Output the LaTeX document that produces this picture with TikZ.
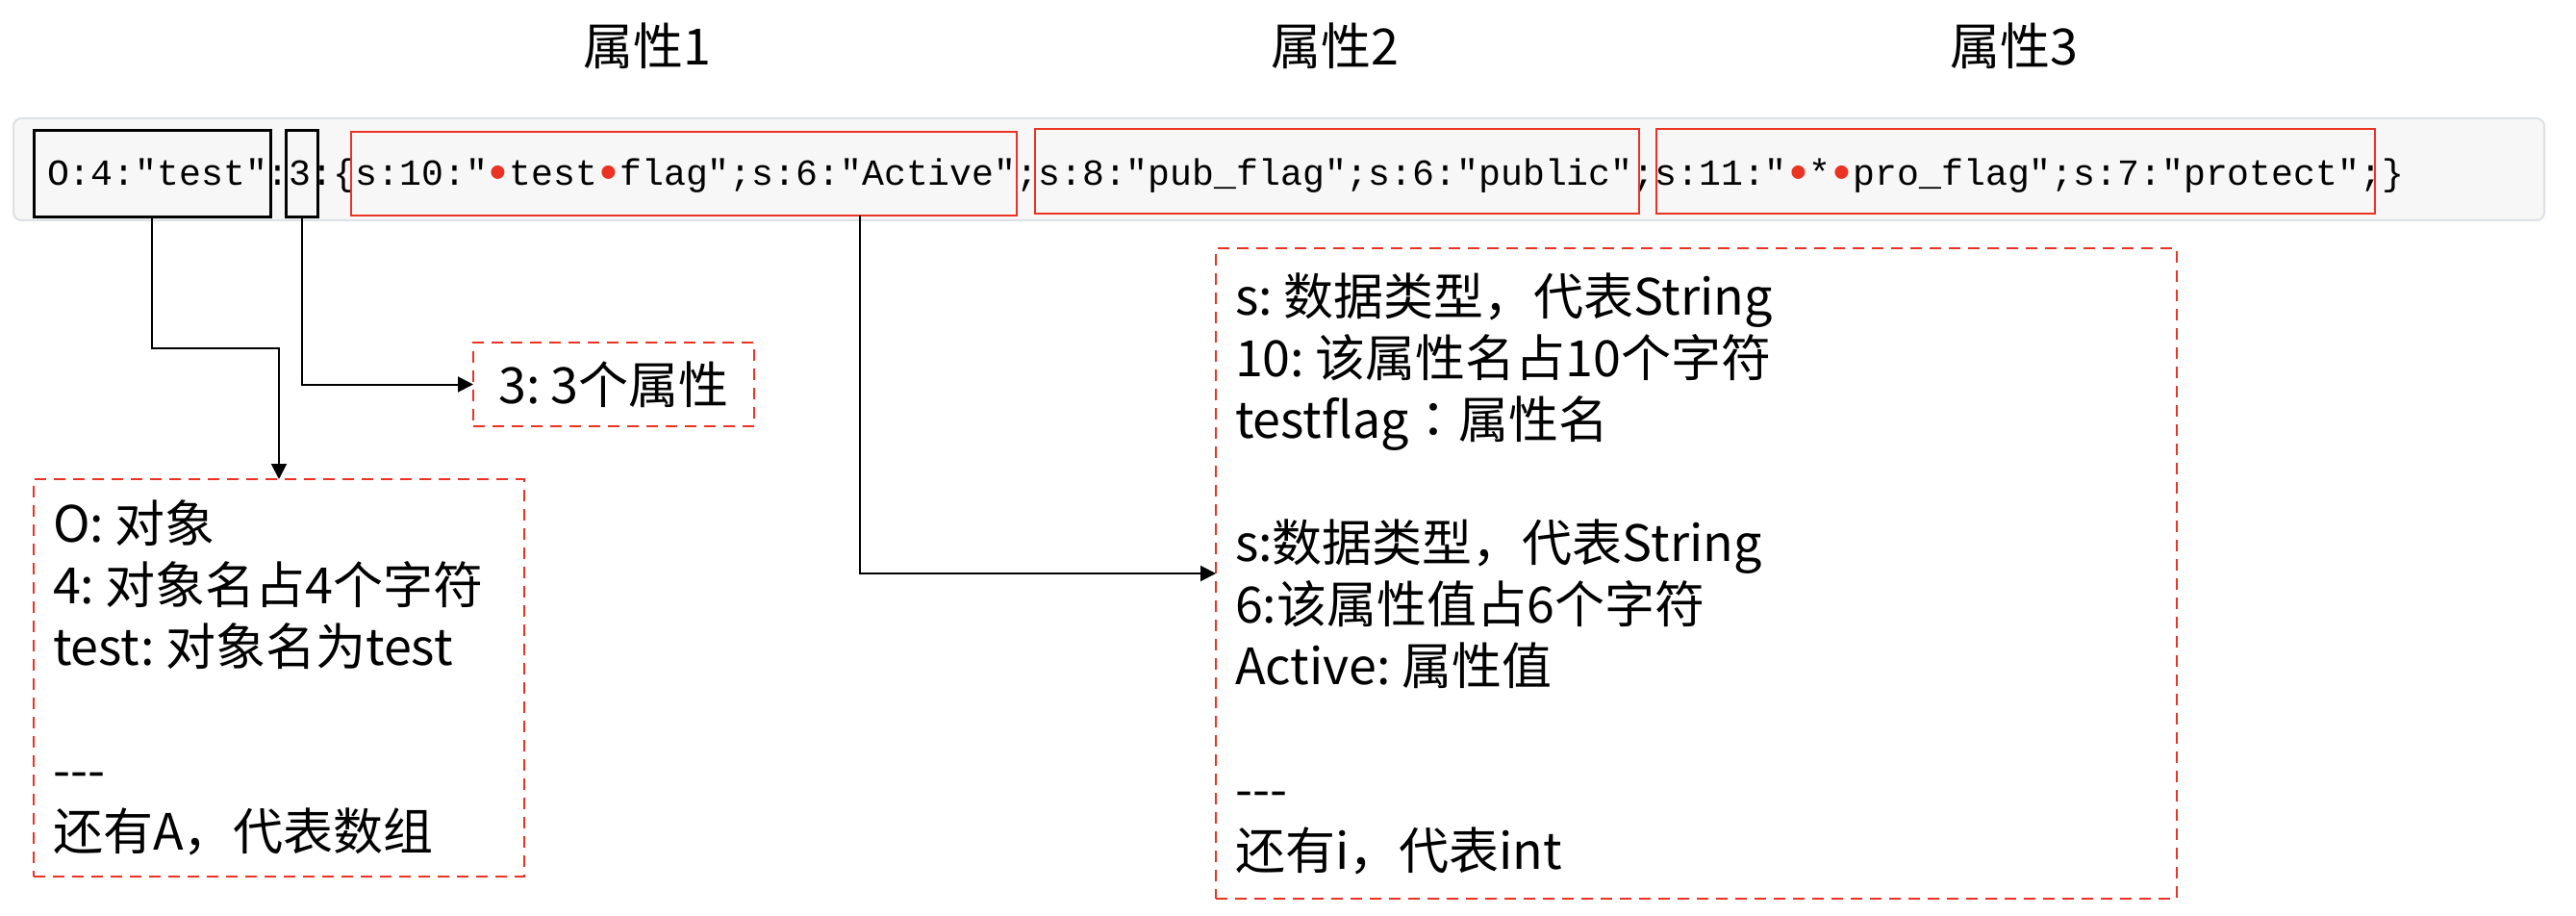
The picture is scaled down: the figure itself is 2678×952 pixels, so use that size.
\documentclass[tikz,border=0pt]{standalone}
\usepackage{fontspec}
\setmainfont{Noto Sans CJK SC}[WordSpace=0.6]
\newfontfamily\tcfont{Noto Sans CJK TC}
\newfontfamily\codefont{Liberation Mono}
\usetikzlibrary{arrows.meta,calc}
\definecolor{cred}{HTML}{EA3323}
\definecolor{barfill}{HTML}{F7F7F7}
\definecolor{barline}{HTML}{DDE0E4}
\newcommand{\nulldot}{\makebox[0.6em][c]{\textcolor{cred}{\raisebox{-0.1em}{\scalebox{1.35}{•}}}}}
\newcommand{\csp}{\hspace{0.22em}}
\begin{document}
\begin{tikzpicture}[x=0.5pt,y=-0.5pt,
  every node/.style={inner sep=0pt, outer sep=0pt},
  txt/.style={font=\fontsize{26pt}{32pt}\selectfont},
  code/.style={font=\codefont\fontsize{19.08pt}{23pt}\selectfont},
  bar/.style={draw=barline, fill=barfill, line width=1pt, rounded corners=4pt},
  blackbox/.style={draw=black, line width=1.5pt},
  redbox/.style={draw=cred, line width=1.2pt},
  note/.style={draw=cred, dash pattern=on 6pt off 4pt, line width=1pt, txt},
  conn/.style={draw=black, line width=1pt},
  arr/.style={conn, -{Triangle[length=8pt,width=8pt]}}
]
\useasboundingbox (0,0) rectangle (2678,952);

% titles
\node[txt] (t1) at (673,48) {属性1};
\node[txt] (t2) at (1388,48) {属性2};
\node[txt] (t3) at (2094,48) {属性3};

% code bar
\node[bar, minimum width=1315.5pt, minimum height=53pt] (bar) at (1329.5,176) {};
\node[code, anchor=base west] (code) at (49,193) {O:4:"test":3:\{s:10:"\nulldot test\nulldot flag";s:6:"Active";s:8:"pub\_flag";s:6:"public";s:11:"\nulldot*\nulldot pro\_flag";s:7:"protect";\}};

% highlight boxes
\node[blackbox, minimum width=123pt, minimum height=45pt] (b1) at (158,181) {};
\node[blackbox, minimum width=16.5pt, minimum height=45pt] (b2) at (313.5,181) {};
\node[redbox, minimum width=346pt, minimum height=43.5pt] (r1) at (711,180.5) {};
\node[redbox, minimum width=314pt, minimum height=44pt] (r2) at (1390,178) {};
\node[redbox, minimum width=373.5pt, minimum height=44pt] (r3) at (2095.5,178) {};

% notes
\node[note, minimum width=146pt, minimum height=43.5pt] (n3) at (638,399.5) {3: 3个属性};
\node[note, minimum width=255pt, minimum height=206.5pt, text width=235pt, align=left] (nO) at (290,704.5)
  {O:\csp 对象\\4:\csp 对象名占4个字符\\test:\csp 对象名为test\\\mbox{}\\\mbox{-}\mbox{-}\mbox{-}\\还有A，代表数组};
\node[note, minimum width=499.5pt, minimum height=338pt, text width=479.5pt, align=left] (nS) at (1763.5,596)
  {s:\csp 数据类型，代表String\\10:\csp 该属性名占10个字符\\testflag{\tcfont ：}属性名\\\mbox{}\\s:数据类型，代表String\\6:该属性值占6个字符\\Active:\csp 属性值\\\mbox{}\\\mbox{-}\mbox{-}\mbox{-}\\还有i，代表int};

% connectors
\coordinate (y1) at (0,362);
\coordinate (e1) at (nO.north |- y1);
\draw[arr] (b1.south) |- (e1) -- (nO.north);
\draw[arr] (b2.south) |- (n3.west);
\coordinate (r1p) at ($(r1.south west)!0.764!(r1.south east)$);
\draw[arr] (r1p) |- (nS.west);
\end{tikzpicture}
\end{document}
